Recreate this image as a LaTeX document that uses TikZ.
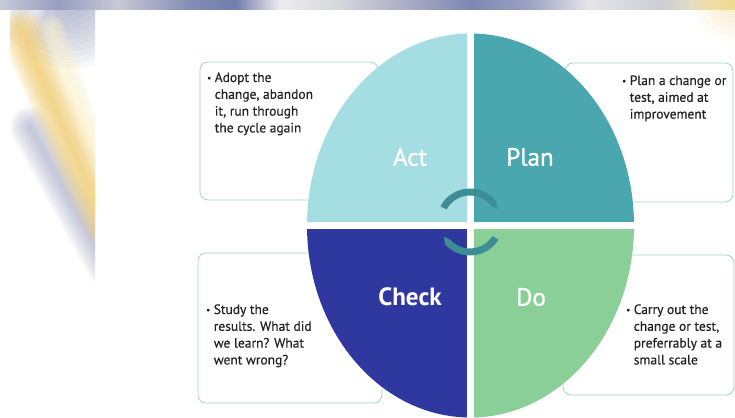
\documentclass[tikz,border=0pt]{standalone}
\usepackage{fontspec}
\setmainfont{PT Sans}
\newfontfamily\notefont[FakeBold=0.4]{PT Sans}
\newfontfamily\phasefont[FakeBold=1.2]{PT Sans}
\definecolor{CycleAct}{HTML}{A4DEE3}
\definecolor{CyclePlan}{HTML}{4AA7B0}
\definecolor{CycleCheck}{HTML}{2E389F}
\definecolor{CycleDo}{HTML}{89CF97}
\definecolor{CycleArrow}{HTML}{3D8E94}
\definecolor{NoteLine}{HTML}{A6D3D0}
\definecolor{NoteInk}{HTML}{222222}
\definecolor{SwirlGold}{HTML}{F0CA66}
\definecolor{SwirlCream}{HTML}{FBF3C8}
\definecolor{SwirlGrey}{HTML}{8A91B6}

% soft band along the top edge, stops at 25bp + 50bp*(x/735)
\pgfdeclarehorizontalshading{topband}{100bp}{%
  color(0bp)=(rgb,255:red,200;green,202;blue,218);
  color(25bp)=(rgb,255:red,200;green,202;blue,218);
  color(29bp)=(rgb,255:red,150;green,158;blue,192);
  color(33bp)=(rgb,255:red,200;green,200;blue,215);
  color(38bp)=(rgb,255:red,130;green,140;blue,180);
  color(41bp)=(rgb,255:red,115;green,125;blue,172);
  color(44bp)=(rgb,255:red,235;green,235;blue,240);
  color(48bp)=(rgb,255:red,215;green,215;blue,222);
  color(52bp)=(rgb,255:red,175;green,178;blue,200);
  color(57bp)=(rgb,255:red,125;green,135;blue,178);
  color(61bp)=(rgb,255:red,155;green,163;blue,196);
  color(65bp)=(rgb,255:red,228;green,228;blue,234);
  color(70bp)=(rgb,255:red,205;green,205;blue,214);
  color(73bp)=(rgb,255:red,238;green,228;blue,185);
  color(75bp)=(rgb,255:red,245;green,230;blue,160);
  color(100bp)=(rgb,255:red,245;green,230;blue,160)}

\tikzset{
  notebox/.style={draw=NoteLine, line width=0.8pt, rounded corners=8pt,
    fill=white, inner sep=0pt},
  notetext/.style={anchor=base west, inner sep=0pt, text=NoteInk,
    font=\notefont\fontsize{13.5}{16.8}\selectfont},
  phase/.style={text=white, font=\phasefont\fontsize{25}{30}\selectfont},
}
\newcommand{\noteitem}[1]{\raisebox{1pt}{\small\textbullet}\hspace{3.5pt}%
  \begin{tabular}[t]{@{}l@{}}#1\end{tabular}}

\begin{document}
\begin{tikzpicture}[x=1pt, y=1pt]
    \useasboundingbox (0,0) rectangle (735,417);

    % ========== BACKDROP ==========
    \fill[white] (0,0) rectangle (735,417);
    \begin{scope}
        \clip (10,94) rectangle (95,417) (0,407) rectangle (735,417);
        % grey swirl in the corner
        \foreach \r in {6,12,...,72}
            \fill[SwirlGrey, opacity=0.07] (70,420) circle (\r);
        \foreach \w in {4,8,...,20}
            \draw[white, line width=\w pt, opacity=0.12, line cap=round]
                (12,360) -- (40,417);
        % grey shadow under the gold stroke
        \foreach \w in {4,8,...,40}
            \draw[SwirlGrey, line width=\w pt, opacity=0.06, line cap=round]
                (30,290) -- (106,152);
        % gold stroke
        \foreach \w in {4,8,...,44}
            \draw[SwirlGold, line width=\w pt, opacity=0.11, line cap=round]
                (22,385) -- (104,195);
        \foreach \w in {4,8,...,24}
            \draw[SwirlCream, line width=\w pt, opacity=0.14, line cap=round]
                (52,390) -- (114,220);
        \shade[shading=topband] (0,407) rectangle (735,417);
    \end{scope}
    % warm glow at the top right
    \foreach \r in {6,12,...,42}
        \fill[SwirlGold, opacity=0.05] (735,417) circle (\r);

    % ========== NOTES ==========
    \node[notebox, minimum width=178pt, minimum height=138pt] (actnote) at (289,286) {};
    \node[notebox, minimum width=168pt, minimum height=139pt] (plannote) at (649,284.5) {};
    \node[notebox, minimum width=184pt, minimum height=150pt] (checknote) at (290,89) {};
    \node[notebox, minimum width=171pt, minimum height=140pt] (donote) at (648.5,92) {};

    \node[notetext] (acttext) at (207,335)
        {\noteitem{Adopt the\\change, abandon\\it, run through\\the cycle again}};
    \node[notetext] (plantext) at (622,332)
        {\noteitem{Plan a change or\\test, aimed at\\improvement}};
    \node[notetext] (checktext) at (206,103)
        {\noteitem{Study the\\results. What did\\we learn? What\\went wrong?}};
    \node[notetext] (dotext) at (626,103)
        {\noteitem{Carry out the\\change or test,\\preferrably at a\\small scale}};

    % ========== CYCLE ==========
    \begin{scope}
        \clip (470.5,191.5) ellipse [x radius=163.5, y radius=192];
        \fill[CycleAct] (300,195) rectangle (467,390);
        \fill[CyclePlan] (474,195) rectangle (640,390);
        \fill[CycleCheck] (300,188) rectangle (467,-5);
        \fill[CycleDo] (474,188) rectangle (640,-5);
    \end{scope}

    \node[phase] (act) at (410,260) {Act};
    \node[phase] (plan) at (530,260) {Plan};
    \node[phase, font=\fontsize{25}{30}\selectfont\bfseries] (check) at (410,120) {Check};
    \node[phase] (do) at (531,120) {Do};

    % turning arrows in the middle
    \begin{scope}[shift={(470,195)}]
        \fill[CycleArrow] (152:33.5) arc[start angle=152, end angle=38, radius=33.5]
            -- (25:30) -- (38:26.5) arc[start angle=38, end angle=152, radius=26.5] -- cycle;
        \fill[CycleArrow] (328:33.5) arc[start angle=328, end angle=222, radius=33.5]
            -- (209:30) -- (222:26.5) arc[start angle=222, end angle=328, radius=26.5] -- cycle;
    \end{scope}

\end{tikzpicture}
\end{document}
